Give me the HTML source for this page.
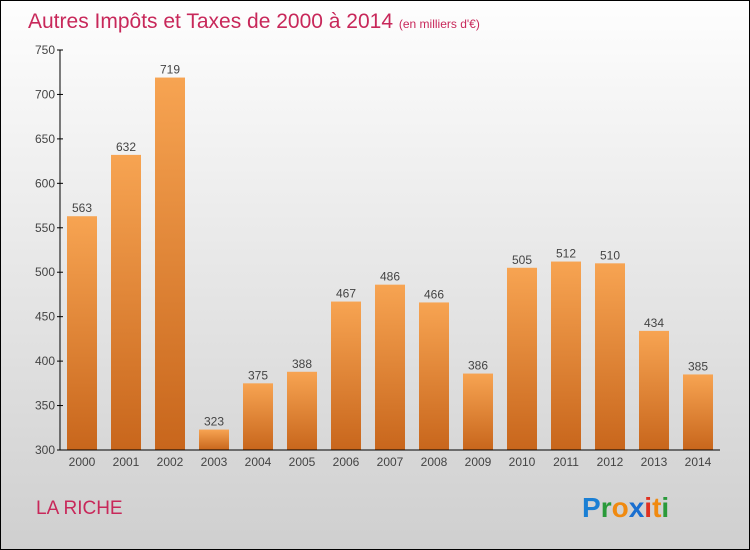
<!DOCTYPE html>
<html><head><meta charset="utf-8"><style>
body{margin:0;width:750px;height:550px;overflow:hidden}
svg{display:block}
</style></head><body>
<svg id="c" width="750" height="550" xmlns="http://www.w3.org/2000/svg" font-family="Liberation Sans, sans-serif">
<defs>
<linearGradient id="bg" x1="0" y1="0" x2="0" y2="1"><stop offset="0" stop-color="#fefefe"/><stop offset="1" stop-color="#cfcfcf"/></linearGradient>
<linearGradient id="bar" x1="0" y1="0" x2="0" y2="1"><stop offset="0" stop-color="#f7a452"/><stop offset="1" stop-color="#c8661c"/></linearGradient>
</defs>
<rect x="0.5" y="0.5" width="749" height="549" fill="url(#bg)" stroke="#000"/>
<text x="28" y="28" font-size="21" fill="#c8285a">Autres Impôts et Taxes de 2000 à 2014 <tspan font-size="12">(en milliers d'€)</tspan></text>
<g id="bars"></g>
<g id="axes"></g>
<text x="36" y="514" font-size="19" fill="#c8285a">LA RICHE</text>
<g font-size="28" font-weight="bold">
<text x="582" y="517" fill="#1a7fd4">P<tspan fill="#2a9a3a">r</tspan><tspan fill="#f08a10">o</tspan><tspan fill="#1a6fd0">x</tspan><tspan fill="#e03020">i</tspan><tspan fill="#f08a10">t</tspan><tspan fill="#2a9a3a">i</tspan></text>
</g>
</svg>
<script>
const years=["2000","2001","2002","2003","2004","2005","2006","2007","2008","2009","2010","2011","2012","2013","2014"];
const values=[563,632,719,323,375,388,467,486,466,386,505,512,510,434,385];
const yTicks=[300,350,400,450,500,550,600,650,700,750];
const NS="http://www.w3.org/2000/svg";
const y=v=>450-(v-300)*400/450;
const x=i=>82+i*44;
function mk(t,a,p,txt){const e=document.createElementNS(NS,t);for(const k in a)e.setAttribute(k,a[k]);if(txt!=null)e.textContent=txt;p.appendChild(e);return e;}
const gb=document.getElementById('bars'),ga=document.getElementById('axes');
values.forEach((v,i)=>{
 const r=mk('rect',{x:x(i)-15,y:y(v),width:30,height:450-y(v),fill:'url(#bar)'},gb);
 
 
 const t=mk('text',{x:x(i),y:y(v)-4,'text-anchor':'middle','font-size':12,fill:'#444'},gb,String(v));
 
 
 const xl=mk('text',{x:x(i),y:466,'text-anchor':'middle','font-size':12,fill:'#444'},ga,years[i]);
 
 
});
const ya=mk('line',{x1:60,y1:50,x2:60,y2:450,stroke:'#000'},ga);


const xa=mk('line',{x1:60,y1:450,x2:720,y2:450,stroke:'#000'},ga);


yTicks.forEach(v=>{
 mk('line',{x1:57,y1:y(v),x2:63,y2:y(v),stroke:'#000'},ga);
 const t=mk('text',{x:55,y:y(v)+4,'text-anchor':'end','font-size':12,fill:'#444'},ga,String(v));
 
 
});
</script>
</body></html>
